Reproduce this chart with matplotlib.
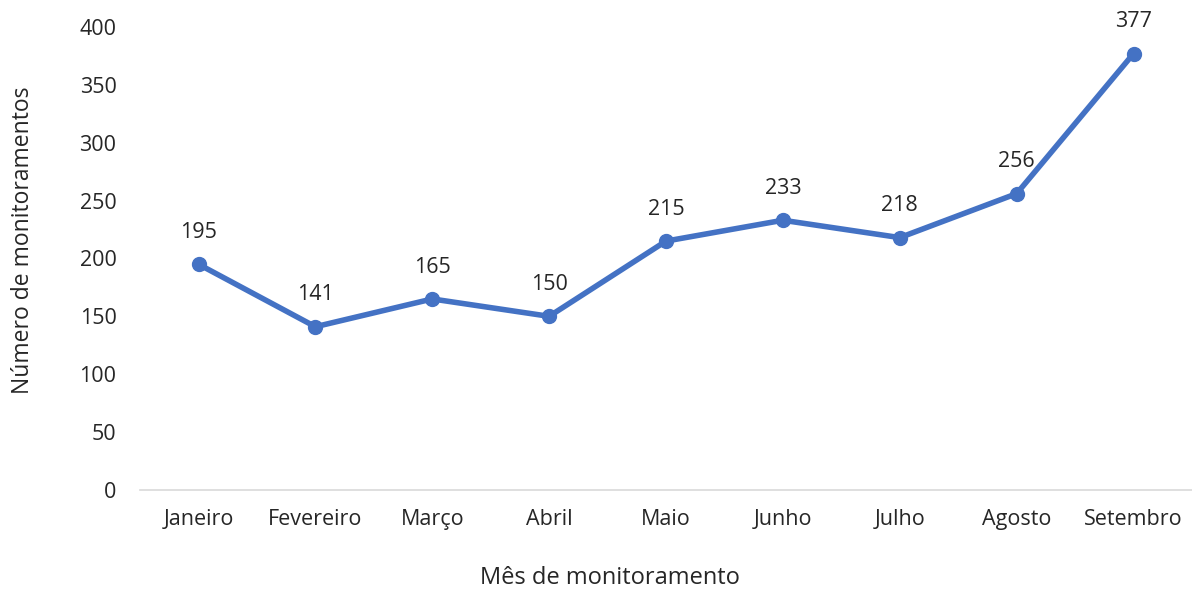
import matplotlib.pyplot as plt

meses = ["Janeiro", "Fevereiro", "Março", "Abril", "Maio", "Junho", "Julho", "Agosto", "Setembro"]
valores = [195, 141, 165, 150, 215, 233, 218, 256, 377]
yticks = [0, 50, 100, 150, 200, 250, 300, 350, 400]

plt.rcParams['font.family'] = ['Open Sans', 'DejaVu Sans']

fig = plt.figure(figsize=(11.92, 5.91), dpi=100)
ax = fig.add_axes([0.1175, 0.171, 0.8825, 0.7834])

x = list(range(len(meses)))
ax.plot(x, valores, color='#4472C4', linewidth=4, marker='o', markersize=10,
        solid_capstyle='round', clip_on=False, zorder=3)
for xi, v in zip(x, valores):
    ax.annotate(str(v), (xi, v), xytext=(0, 23), textcoords='offset points',
                ha='center', va='center', fontsize=15.5, color='#262626')

ax.set_xlim(-0.5, len(meses) - 0.5)
ax.set_ylim(0, 400)
ax.set_xticks(x)
ax.set_xticklabels(meses)
ax.set_yticks(yticks)
ax.tick_params(axis='both', length=0, labelsize=15.5, colors='#262626')
ax.tick_params(axis='x', pad=14)
ax.tick_params(axis='y', pad=17)
for s in ['top', 'right', 'left']:
    ax.spines[s].set_visible(False)
ax.spines['bottom'].set_color('#D9D9D9')
ax.spines['bottom'].set_linewidth(1.2)

ax.set_xlabel("Mês de monitoramento", fontsize=17, color='#262626')
ax.set_ylabel("Número de monitoramentos", fontsize=16.5, color='#262626')
ax.xaxis.set_label_coords(0.447, -0.165)
ax.yaxis.set_label_coords(-0.1, 0.54)

fig.savefig("out.png", dpi=100)
